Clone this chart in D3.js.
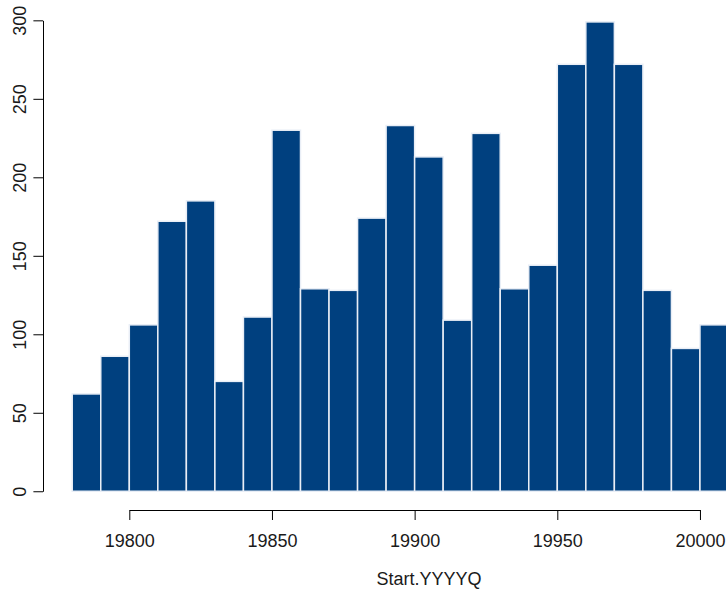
<!DOCTYPE html>
<html>
	<head>
		<script src="https://d3js.org/d3.v7.min.js"></script>
		<style>
			html, body {
				margin: 0;
				padding: 0;
				background: #ffffff;
			}
			svg {
				display: block;
				font-family: "Liberation Sans", Arial, Helvetica, sans-serif;
			}
			.bar {
				fill: #00407f;
				stroke: #e9eef6;
				stroke-width: 1.5;
			}
			.axis path,
			.axis line {
				stroke: #000000;
			}
			.axis text {
				font-size: 18px;
				fill: #1a1a1a;
			}
		</style>
		<title>Histogram of Start.YYYYQ</title>
	</head>
	<body>
		<div id="chart"></div>
		<script>
			const width = 726, // window size
				height = 592;

			// histogram bins (left edge of each bin, width 10)
			const binStarts = [
				19780, 19790, 19800, 19810, 19820, 19830, 19840, 19850, 19860, 19870,
				19880, 19890, 19900, 19910, 19920, 19930, 19940, 19950, 19960, 19970,
				19980, 19990, 20000,
			];
			const binWidth = 10;
			const counts = [
				62, 86, 106, 172, 185, 70, 111, 230, 129, 128,
				174, 233, 213, 109, 228, 129, 144, 272, 299, 272,
				128, 91, 106,
			];
			const xTicks = [19800, 19850, 19900, 19950, 20000];
			const yTicks = [0, 50, 100, 150, 200, 250, 300];
			const xLabel = "Start.YYYYQ";

			const bins = binStarts.map((s, i) => ({ x0: s, x1: s + binWidth, n: counts[i] }));

			// plot region runs past the right edge of the picture, as in the original
			const x = d3.scaleLinear().domain([19770, 20040]).range([43.7, 814.1]);
			const y = d3.scaleLinear().domain([-12, 312]).range([510.1, 1.5]);

			const svg = d3
				.select("#chart")
				.append("svg")
				.attr("width", width)
				.attr("height", height);

			// bars
			svg
				.append("g")
				.selectAll("rect")
				.data(bins)
				.join("rect")
				.attr("class", "bar")
				.attr("x", (d) => x(d.x0))
				.attr("width", (d) => x(d.x1) - x(d.x0))
				.attr("y", (d) => y(d.n))
				.attr("height", (d) => y(0) - y(d.n));

			// y axis, line only between first and last tick
			const yAxisScale = y.copy().domain([0, 300]).range([y(0), y(300)]);
			const yAxis = svg
				.append("g")
				.attr("class", "axis")
				.attr("transform", "translate(43,0)")
				.call(d3.axisLeft(yAxisScale).tickValues(yTicks).tickSize(9.6).tickSizeOuter(0));
			yAxis
				.selectAll("text")
				.attr("x", 0)
				.attr("y", 0)
				.attr("dy", null)
				.attr("text-anchor", "middle")
				.attr("transform", "translate(-17,0) rotate(-90)");

			// x axis
			const xAxisScale = x.copy().domain([19800, 20000]).range([x(19800), x(20000)]);
			const xAxis = svg
				.append("g")
				.attr("class", "axis")
				.attr("transform", "translate(0,510)")
				.call(d3.axisBottom(xAxisScale).tickValues(xTicks).tickFormat(d3.format("d")).tickSize(10).tickSizeOuter(0));
			xAxis.selectAll("text").attr("y", 37).attr("dy", null);

			// x label, centred on the plot region
			svg
				.append("text")
				.attr("x", (x.range()[0] + x.range()[1]) / 2)
				.attr("y", 584.5)
				.attr("text-anchor", "middle")
				.style("font-size", "18px")
				.style("fill", "#1a1a1a")
				.text(xLabel);
		</script>
	</body>
</html>
